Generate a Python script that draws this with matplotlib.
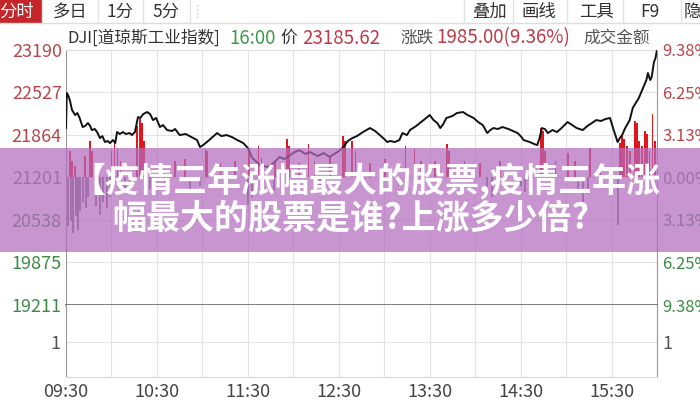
import matplotlib.pyplot as plt
from matplotlib.patches import Rectangle
from matplotlib.lines import Line2D

plt.rcParams['font.family'] = ['Noto Sans CJK SC', 'DejaVu Sans']

# price line, minutes after 09:30 and index value
minutes = [0, 0.5, 1.3, 2.5, 4, 6, 7.5, 9, 11, 12.5, 14.5, 16, 17, 19, 20.5, 22.4, 24, 25.7,
           27.5, 29, 31, 32.5, 33.7, 35.5, 37.6, 39.5, 42, 43.5, 45.5, 47.5, 49, 51, 53.5,
           55.5, 57.4, 59.5, 62, 64, 66.7, 70, 72, 75, 79, 84, 86.5, 88.4, 90.5, 93, 96,
           99.7, 102.5, 106, 109.5, 113, 117, 120, 123, 128, 133, 137, 141, 144, 148, 151,
           154, 158, 161, 166, 170, 174, 178, 181, 183, 186, 189, 192, 196, 200.6, 204, 207,
           210, 212, 214, 217, 220, 222, 225, 227, 231, 236, 240, 242.5, 245, 247, 249, 251,
           255, 258, 262, 265, 269, 272, 275, 278, 280, 282, 285, 288, 292, 295, 298, 300,
           302, 306, 309, 311, 312.5, 314, 316, 318, 321, 324, 327, 331, 334, 337, 341, 344,
           347, 350, 353, 356, 359, 361, 364, 365.5, 367, 369, 372, 374, 376, 378, 381, 383,
           384, 385.5, 386.5, 388, 389, 390]
prices = [21972, 22519, 22488, 22410, 22253, 22175, 22207, 22129, 21988, 22003, 22050, 22003,
          21941, 21957, 21910, 21816, 21847, 21754, 21770, 21738, 21785, 21738, 21910, 21879,
          21910, 21879, 21894, 21863, 21910, 22144, 22129, 22191, 22222, 22191, 22097, 22129,
          21988, 22019, 21941, 21926, 21957, 21863, 21879, 21816, 21785, 21676, 21707, 21754,
          21816, 21894, 21847, 21863, 21832, 21785, 21738, 21660, 21504, 21395, 21364, 21426,
          21520, 21489, 21551, 21598, 21629, 21567, 21598, 21535, 21582, 21520, 21582, 21629,
          21676, 21770, 21816, 21847, 21910, 21972, 21926, 21863, 21801, 21754, 21770, 21754,
          21785, 21894, 21863, 21941, 22003, 22097, 22175, 22097, 22050, 21972, 22035, 22129,
          22160, 22207, 22222, 22175, 22129, 22066, 22019, 21894, 21941, 21972, 21957, 21988,
          21957, 21926, 21894, 21847, 21785, 21754, 21722, 21707, 21816, 21972, 21957, 21894,
          21941, 21910, 21972, 22066, 22019, 21972, 21941, 22003, 22050, 22097, 22082, 22113,
          22129, 21972, 21754, 21816, 21863, 21972, 22097, 22285, 22363, 22441, 22612, 22722,
          22831, 22722, 22769, 23003, 23065, 23190]

# bars around the previous close (positive red, negative gray)
bar_minutes = [2.6, 4, 6, 12.5, 16, 17, 21, 30, 32, 34, 36, 47, 49, 50, 51.5, 62, 72, 78.5,
               92, 93, 102, 111.5, 121, 127, 129, 138, 146, 147, 154, 160, 164, 174, 183, 184,
               189, 191, 200.6, 210.5, 224, 230, 234, 243.5, 251.5, 253, 263, 273, 286.4,
               313.5, 315, 316, 323, 331, 336, 346, 352.4, 365.6, 367, 368, 370, 372, 375.5,
               377, 378, 380, 382, 383.5, 385, 387, 388.7,
               1.3, 3.3, 4.6, 6.6, 8, 9, 11, 13, 14.5, 20, 22.4, 24.4, 27, 29, 39, 42, 55.4,
               65, 82, 88.4, 120, 122.5, 137, 140, 167.6, 197, 220, 247, 278, 281, 285, 300,
               303, 338, 341, 344.5, 360, 364]
bar_values = [406, 250, 172, 328, 562, 406, 172, 406, 562, 437, 250, 796, 905, 843, 562, 172,
              250, 281, 437, 406, 219, 250, 453, 484, 297, 250, 593, 484, 219, 515, 250, 328,
              640, 562, 562, 406, 219, 281, 484, 437, 250, 250, 515, 406, 250, 219, 250, 765,
              718, 406, 250, 375, 250, 453, 172, 531, 640, 593, 484, 406, 874, 843, 562, 484,
              718, 671, 406, 983, 562,
              -765, -687, -874, -609, -812, -531, -375, -484, -297, -453, -578, -375, -484,
              -297, -219, -140, -187, -140, -219, -140, -421, -297, -219, -140, -140, -94,
              -140, -109, -219, -297, -187, -140, -219, -250, -375, -265, -140, -734]

prev_close = 21201
price_levels = [23190, 22527, 21864, 21201, 20538, 19875, 19211]
left_colors = ['#b8474c', '#b8474c', '#b8474c', '#777777', '#3e8a45', '#3e8a45', '#3e8a45']
pct_labels = ['9.38%', '6.25%', '3.13%', '0.00%', '3.13%', '6.25%', '9.38%']
time_labels = ['09:30', '10:30', '11:30', '12:30', '13:30', '14:30', '15:30']

left_tabs = ['分时', '多日', '1分', '5分']
left_tab_x = [17, 70, 120, 166]
right_tabs = ['叠加', '画线', '工具', 'F9', '隐']
right_tab_x = [489, 539, 596, 650, 692]
tab_seps = [42, 98, 143, 190, 464, 513, 567, 623, 681]

W, H = 700, 400


def fx(x):
    return x / W


def fy(y):
    return 1 - y / H


fig = plt.figure(figsize=(7, 4), dpi=100)
fig.patch.set_facecolor('white')

L, R = 66, 657
ax = fig.add_axes([fx(L), fy(305), (R - L) / W, (305 - 50) / H])
vax = fig.add_axes([fx(L), fy(377), (R - L) / W, (377 - 305) / H])

colors = ['#e4141b' if v > 0 else '#7a7a7a' for v in bar_values]
ax.bar(bar_minutes, bar_values, bottom=prev_close, width=1.2, color=colors, linewidth=0, zorder=2)
ax.plot(minutes, prices, color='#111111', lw=1.4, zorder=3)

ax.set_xlim(0, 390)
ax.set_ylim(19211, 23190)
ax.set_yticks(price_levels)
ax.set_yticklabels([str(v) for v in price_levels])
for lab, c in zip(ax.get_yticklabels(), left_colors):
    lab.set_color(c)
ax.set_xticks(range(0, 391, 30))
ax.set_xticklabels([])
ax.tick_params(length=0, labelsize=13, pad=3)
ax.grid(True, color='#e3e3e3', lw=0.8, zorder=0)
ax.set_axisbelow(True)
for s in ['left', 'right']:
    ax.spines[s].set_color('#999999')
ax.spines['top'].set_color('#dddddd')
ax.spines['bottom'].set_color('#666666')
ax.spines['bottom'].set_linewidth(1.2)

ax2 = ax.twinx()
ax2.set_ylim(19211, 23190)
ax2.set_yticks(price_levels)
ax2.set_yticklabels(pct_labels)
for lab, c in zip(ax2.get_yticklabels(), left_colors):
    lab.set_color(c)
ax2.tick_params(length=0, labelsize=12, pad=4)
for s in ax2.spines.values():
    s.set_visible(False)

vax.set_xlim(0, 390)
vax.set_ylim(0, 2.06)
vax.set_yticks([1])
vax.set_yticklabels(['1'], color='#555555')
vax.set_xticks(range(0, 391, 30))
vax.set_xticklabels([time_labels[i // 2] if i % 2 == 0 else '' for i in range(14)], color='#444444')
vax.tick_params(length=0, labelsize=13, pad=4)
vax.tick_params(axis='y', labelright=True, labelleft=True)
vax.grid(True, color='#e3e3e3', lw=0.8)
vax.spines['top'].set_visible(False)
vax.spines['bottom'].set_color('#d8d8d8')
for s in ['left', 'right']:
    vax.spines[s].set_color('#999999')

# tab bar
fig.add_artist(Rectangle((0, fy(23)), fx(42), 23 / H, transform=fig.transFigure,
                         color='#c4262c', lw=0))
fig.add_artist(Line2D([0, 1], [fy(23), fy(23)], transform=fig.transFigure, color='#dddddd', lw=1))
for x in tab_seps:
    fig.add_artist(Line2D([fx(x), fx(x)], [fy(0), fy(23)], transform=fig.transFigure,
                          color='#e2e2e2', lw=1))
fig.add_artist(Line2D([fx(197), fx(197)], [fy(5), fy(18)], transform=fig.transFigure,
                      color='#cccccc', lw=1, ls=':'))
for t, x in zip(left_tabs, left_tab_x):
    fig.text(fx(x), fy(12), t, ha='center', va='center', fontsize=12.5,
             color='white' if t == '分时' else '#333333')
for t, x in zip(right_tabs, right_tab_x):
    fig.text(fx(x), fy(12), t, ha='center', va='center', fontsize=12.5, color='#333333')

# header line: text, x, colour, size
header = [('DJI[道琼斯工业指数]', 67, '#333333', 12), ('16:00', 229, '#3e9a4c', 13.5),
          ('价', 280, '#333333', 12), ('23185.62', 302, '#c0394a', 13.5),
          ('涨跌', 400, '#555555', 12), ('1985.00(9.36%)', 436, '#c0394a', 13.5),
          ('成交金额', 583, '#555555', 12)]
for t, x, c, s in header:
    fig.text(fx(x), fy(38), t, ha='left', va='center', fontsize=s, color=c)

# banner
fig.add_artist(Rectangle((0, fy(252)), 1, 104 / H, transform=fig.transFigure,
                         facecolor='#b46cc0', alpha=0.72, lw=0, zorder=5))
fig.text(fx(366), fy(181), '【疫情三年涨幅最大的股票,疫情三年涨', ha='center', va='center',
         fontsize=24.5, fontweight='bold', color='white', zorder=6)
fig.text(fx(351), fy(218), '幅最大的股票是谁?上涨多少倍?', ha='center', va='center',
         fontsize=24.5, fontweight='bold', color='white', zorder=6)

fig.savefig('out.png', dpi=100)
